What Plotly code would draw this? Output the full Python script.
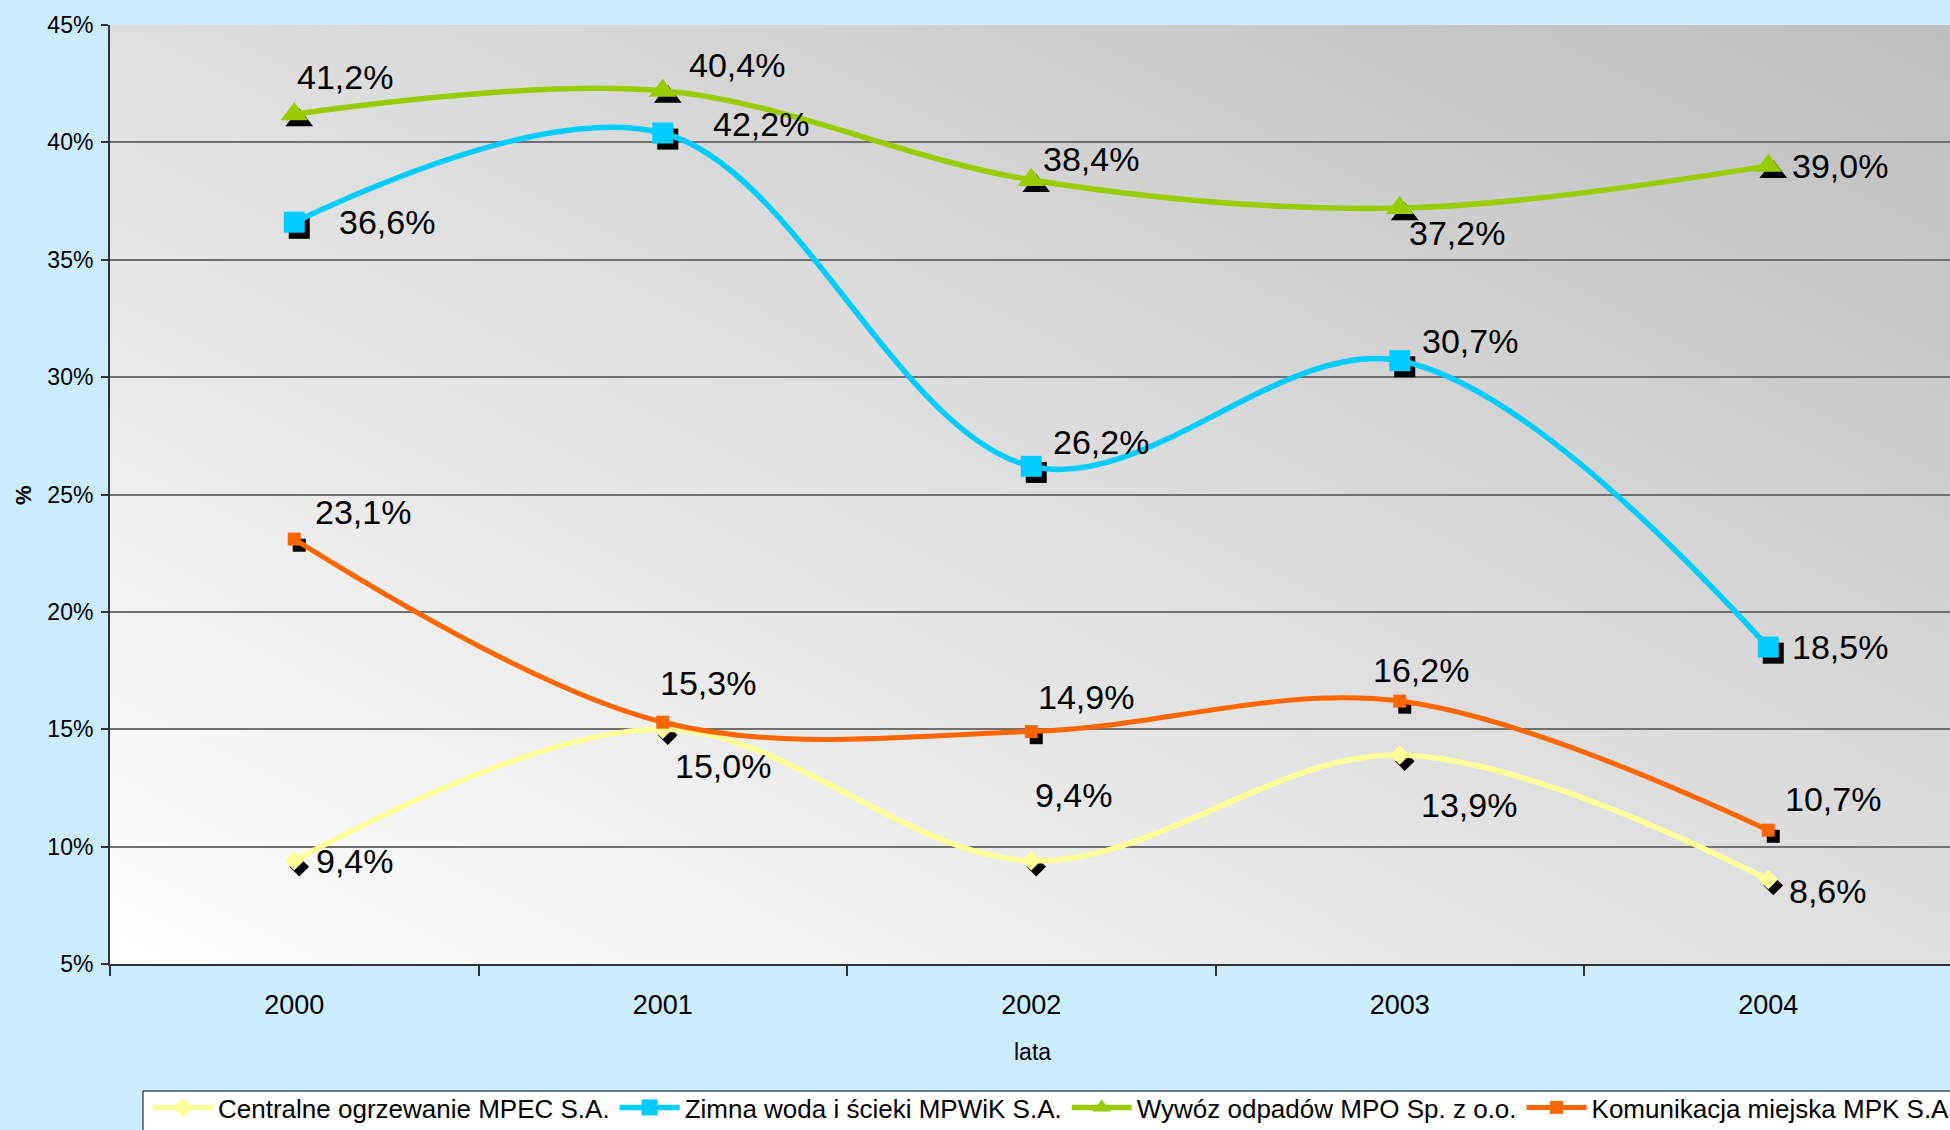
import base64
import plotly.graph_objects as go

# data
years = ["2000", "2001", "2002", "2003", "2004"]

mpec = [9.4, 15.0, 9.4, 13.9, 8.6]
mpwik = [36.6, 40.4, 26.2, 30.7, 18.5]
mpo = [41.2, 42.2, 38.4, 37.2, 39.0]
mpk = [23.1, 15.3, 14.9, 16.2, 10.7]

# data labels as printed on the chart (2001 labels of MPWiK / MPO are swapped there)
mpec_labels = ["9,4%", "15,0%", "9,4%", "13,9%", "8,6%"]
mpwik_labels = ["36,6%", "42,2%", "26,2%", "30,7%", "18,5%"]
mpo_labels = ["41,2%", "40,4%", "38,4%", "37,2%", "39,0%"]
mpk_labels = ["23,1%", "15,3%", "14,9%", "16,2%", "10,7%"]

names = [
    "Centralne ogrzewanie MPEC S.A.",
    "Zimna woda i ścieki MPWiK S.A.",
    "Wywóz odpadów MPO Sp. z o.o.",
    "Komunikacja miejska MPK S.A.",
]

FONT = "Liberation Sans, Arial, sans-serif"
x = list(range(len(years)))

series = [
    dict(name=names[0], y=mpec, labels=mpec_labels, color="#FFFF99", symbol="diamond", size=15, width=5.5,
         dx=[20, 10, 2, 19, 19], dy=[0, -37, 66, -50, -12]),
    dict(name=names[1], y=mpwik, labels=mpwik_labels, color="#00CCFF", symbol="square", size=21, width=5.5,
         dx=[43, 48, 20, 20, 22], dy=[0, 9, 24, 20, 0]),
    dict(name=names[2], y=mpo, labels=mpo_labels, color="#99CC00", symbol="triangle-up", size=24, width=5.5,
         dx=[1, 24, 10, 7, 22], dy=[37, 26, 21, -25, 0]),
    dict(name=names[3], y=mpk, labels=mpk_labels, color="#FF6600", symbol="square", size=13, width=5,
         dx=[19, -5, 5, -29, 15], dy=[27, 39, 35, 31, 31]),
]

fig = go.Figure()

# black drop shadows under markers (a few px right and down)
for s in series:
    fig.add_trace(go.Scatter(
        x=[i + 0.0136 for i in x], y=[v - 0.26 for v in s["y"]], mode="markers",
        marker=dict(symbol=s["symbol"], size=s["size"], color="black"),
        showlegend=False, hoverinfo="skip",
    ))

annotations = []
for s in series:
    fig.add_trace(go.Scatter(
        x=x, y=s["y"], name=s["name"], mode="lines+markers",
        line=dict(color=s["color"], width=s["width"], shape="spline", smoothing=1.0),
        marker=dict(symbol=s["symbol"], size=s["size"], color=s["color"]),
    ))
    for i, v in enumerate(s["y"]):
        annotations.append(dict(
            x=x[i], y=v, text=s["labels"][i], showarrow=False,
            xanchor="left", yanchor="middle", xshift=s["dx"][i], yshift=s["dy"][i],
            font=dict(family=FONT, size=34, color="black"),
        ))

annotations.append(dict(text="lata", xref="paper", yref="paper", x=(1032 - 110) / 1840, y=-(1052 - 964) / 939,
                        xanchor="center", yanchor="middle", showarrow=False,
                        font=dict(family=FONT, size=23, color="black")))
annotations.append(dict(text="<b>%</b>", xref="paper", yref="paper", x=(23 - 110) / 1840, y=(964 - 495) / 939,
                        xanchor="center", yanchor="middle", showarrow=False, textangle=-90,
                        font=dict(family=FONT, size=22, color="black")))

# diagonal grey gradient for the plot area
svg = ('<svg xmlns="http://www.w3.org/2000/svg" width="100" height="100" viewBox="0 0 100 100" '
       'preserveAspectRatio="none"><defs><linearGradient id="g" x1="0" y1="1" x2="1" y2="0">'
       '<stop offset="0" stop-color="#FFFFFF"/><stop offset="1" stop-color="#BEBEBE"/>'
       '</linearGradient></defs><rect width="100" height="100" fill="url(#g)"/></svg>')
bg_src = "data:image/svg+xml;base64," + base64.b64encode(svg.encode()).decode()

fig.update_layout(
    width=1950, height=1130,
    margin=dict(l=110, r=0, t=25, b=166, autoexpand=False),
    paper_bgcolor="#CCECFF",
    plot_bgcolor="rgba(0,0,0,0)",
    font=dict(family=FONT, color="black"),
    images=[dict(source=bg_src, xref="paper", yref="paper", x=0, y=1, sizex=1, sizey=1,
                 sizing="stretch", layer="below")],
    annotations=annotations,
    # legend box (runs off the right and bottom edges like in the original)
    shapes=[dict(type="rect", xref="paper", yref="paper", layer="below",
                 x0=(143 - 110) / 1840, x1=(1970 - 110) / 1840,
                 y0=-(1091 - 964) / 939, y1=-(1150 - 964) / 939,
                 line=dict(color="black", width=1), fillcolor="white")],
    showlegend=True,
    legend=dict(
        orientation="h", x=(148 - 110) / 1840, y=-(1084 - 964) / 939, xanchor="left", yanchor="top",
        bgcolor="rgba(0,0,0,0)", borderwidth=0, itemwidth=60,
        font=dict(family=FONT, size=26, color="black"),
    ),
)

fig.update_xaxes(
    range=[-0.5, -0.5 + 1840 / 368.5],
    tickvals=x, ticktext=years, ticks="", showgrid=False, zeroline=False,
    showline=True, linecolor="#333333", linewidth=2,
    tickfont=dict(family=FONT, size=27, color="black"), ticklabelstandoff=16,
    minor=dict(tickvals=[i - 0.5 for i in range(len(years) + 1)], ticks="outside", ticklen=10,
               tickwidth=1.5, tickcolor="#333333", showgrid=False),
)
fig.update_yaxes(
    range=[5, 45], dtick=5, tick0=5, ticksuffix="%",
    showgrid=True, gridcolor="#707070", gridwidth=1.5, zeroline=False,
    showline=True, linecolor="#333333", linewidth=2,
    ticks="outside", ticklen=7, tickwidth=1.5, tickcolor="#333333",
    tickfont=dict(family=FONT, size=23, color="black"), ticklabelstandoff=3,
)

fig.write_html("out.html", config={"displayModeBar": False},
               post_script="document.body.style.margin='0';")
